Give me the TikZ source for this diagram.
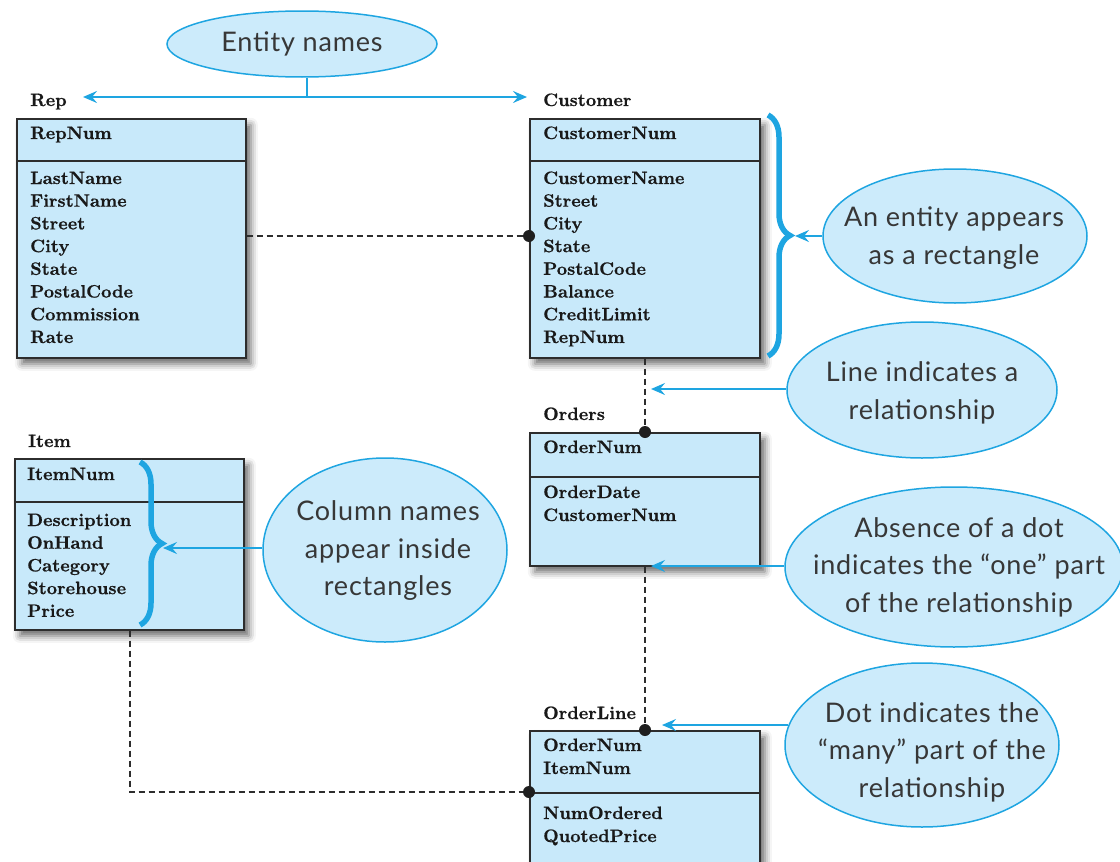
\documentclass[tikz,border=0pt]{standalone}
\usepackage{fontspec}
\newfontfamily\callfont{Lato}[LetterSpace=3]
\newfontfamily\fldfont{lmroman10-bold}[Extension=.otf, FakeBold=0.6]
\usetikzlibrary{shapes.geometric,arrows.meta,decorations.pathreplacing,shadows.blur,calc}
\definecolor{boxfill}{RGB}{200,233,250}
\definecolor{ellfill}{RGB}{204,235,251}
\definecolor{cblue}{RGB}{30,165,225}
\definecolor{dgray}{RGB}{45,45,45}
\definecolor{txtgray}{RGB}{55,55,55}
\begin{document}
\begin{tikzpicture}[x=1pt,y=-1pt,
 ent/.style={draw=dgray, line width=1.6pt, fill=boxfill, rectangle, anchor=north west, inner sep=0pt,
   blur shadow={shadow xshift=5pt, shadow yshift=-6pt, shadow blur radius=7pt, shadow opacity=60}},
 sepline/.style={draw=dgray, line width=1.6pt},
 fld/.style={anchor=base west, inner sep=0pt, font=\fldfont\fontsize{18}{22}\selectfont, text=black!90},
 callE/.style={ellipse, draw=cblue, line width=1.5pt, fill=ellfill, inner sep=0pt},
 callT/.style={inner sep=0pt, align=center, text=txtgray, font=\callfont\fontsize{27}{37.5}\selectfont},
 bline/.style={draw=cblue, line width=2pt},
 arr/.style={draw=cblue, line width=2pt, -{Stealth[length=14pt,width=12pt,inset=5pt]}},
 rel/.style={draw=dgray, line width=1.5pt, dash pattern=on 6pt off 4pt},
 dotn/.style={circle, fill=black!88, inner sep=0pt, minimum size=12pt},
 brc/.style={draw=cblue, line width=5.5pt, decorate, decoration={brace, amplitude=22pt}},
]
\useasboundingbox (0,0) rectangle (1120,862);
\clip (0,0) rectangle (1120,862);

% ---------- entity boxes ----------
\node[ent, minimum width=229pt, minimum height=239pt] (rep) at (16,118) {};
\node[ent, minimum width=230pt, minimum height=239pt] (cust) at (529,118) {};
\node[ent, minimum width=230pt, minimum height=133pt] (ord) at (529,432) {};
\node[ent, minimum width=230pt, minimum height=180pt] (ol) at (529,730) {};
\node[ent, minimum width=229pt, minimum height=171pt] (item) at (14,458) {};

\draw[sepline] (rep.west |- 0,161) -- (rep.east |- 0,161);
\draw[sepline] (cust.west |- 0,161) -- (cust.east |- 0,161);
\draw[sepline] (ord.west |- 0,477) -- (ord.east |- 0,477);
\draw[sepline] (ol.west |- 0,793) -- (ol.east |- 0,793);
\draw[sepline] (item.west |- 0,502) -- (item.east |- 0,502);

% ---------- titles ----------
\node[fld] (rept) at (30,106) {Rep};
\node[fld] (custt) at (543,106) {Customer};
\node[fld] (ordt) at (543,420) {Orders};
\node[fld] (olt) at (543,719) {OrderLine};
\node[fld] (itemt) at (28,447) {Item};

% ---------- fields ----------
\node[fld] (rep-k) at (30,139) {RepNum};
\foreach \t [count=\i from 0] in {LastName,FirstName,Street,City,State,PostalCode,Commission,Rate}
  \node[fld] (rep-f\i) at (30,{184+22.71*\i}) {\t};

\node[fld] (cust-k) at (543,139) {CustomerNum};
\foreach \t [count=\i from 0] in {CustomerName,Street,City,State,PostalCode,Balance,CreditLimit,RepNum}
  \node[fld] (cust-f\i) at (543,{184+22.71*\i}) {\t};

\node[fld] (ord-k) at (543,453) {OrderNum};
\node[fld] (ord-f0) at (543,498) {OrderDate};
\node[fld] (ord-f1) at (543,521) {CustomerNum};

\node[fld] (ol-k0) at (543,751) {OrderNum};
\node[fld] (ol-k1) at (543,774) {ItemNum};
\node[fld] (ol-f0) at (543,819) {NumOrdered};
\node[fld] (ol-f1) at (543,842) {QuotedPrice};

\node[fld] (item-k) at (27,480) {ItemNum};
\foreach \t [count=\i from 0] in {Description,OnHand,Category,Storehouse,Price}
  \node[fld] (item-f\i) at (27,{526+22.71*\i}) {\t};

% ---------- relationships ----------
\node[dotn] (d1) at (cust.west |- 0,236) {};
\node[dotn] (d2) at (645,432) {};
\node[dotn] (d3) at (645,730) {};
\node[dotn] (d4) at (ol.west |- 0,792) {};
\coordinate (c1) at (130,792);
\draw[rel] (rep.east |- d1) -- (d1);
\draw[rel] (cust.south -| d2) -- (d2);
\draw[rel] (ord.south -| d3) -- (d3);
\draw[rel] (item.south -| c1) -- (c1) -- (d4);

% ---------- braces ----------
\draw[brc] (768,115) -- (768,356);
\draw[brc] (140,462) -- (140,625);

% ---------- callouts ----------
\node[callE, minimum width=270pt, minimum height=66pt] (en) at (302,44) {};
\node[callT] (ent) at (302,44) {Entity names};

\node[callE, minimum width=264pt, minimum height=134pt] (ea) at (955,236) {};
\node[callT] (eat) at (954,238) {An entity appears\\as a rectangle};

\node[callE, minimum width=270pt, minimum height=136pt] (li) at (922,390) {};
\node[callT] (lit) at (922,393) {Line indicates a\\relationship};

\node[callE, minimum width=244pt, minimum height=184pt] (cn) at (385,550) {};
\node[callT] (cnt) at (388,551) {Column names\\appear inside\\rectangles};

\node[callE, minimum width=338pt, minimum height=160pt] (ab) at (954,567) {};
\node[callT] (abt) at (959,567) {Absence of a dot\\indicates the “one” part\\of the relationship};

\node[callE, minimum width=274pt, minimum height=164pt] (dm) at (922,745) {};
\node[callT] (dmt) at (932,752) {Dot indicates the\\“many” part of the\\relationship};

% ---------- callout arrows ----------
\coordinate (j) at (307,97);
\coordinate (ra) at (83,97);
\coordinate (ca) at (527,97);
\draw[bline] (en.south -| j) -- (j);
\draw[arr] (j) -- (ra);
\draw[arr] (j) -- (ca);

\coordinate (t1) at (795,236);
\draw[arr] (ea.west) -- (t1);
\coordinate (t2) at (651,389);
\draw[arr] (li.west |- t2) -- (t2);
\coordinate (t3) at (163,548);
\draw[arr] (cn.west |- t3) -- (t3);
\coordinate (t4) at (651,566);
\draw[arr] (ab.west |- t4) -- (t4);
\coordinate (t5) at (662,725);
\draw[arr] (dm.172 |- t5) -- (t5);
\end{tikzpicture}
\end{document}
